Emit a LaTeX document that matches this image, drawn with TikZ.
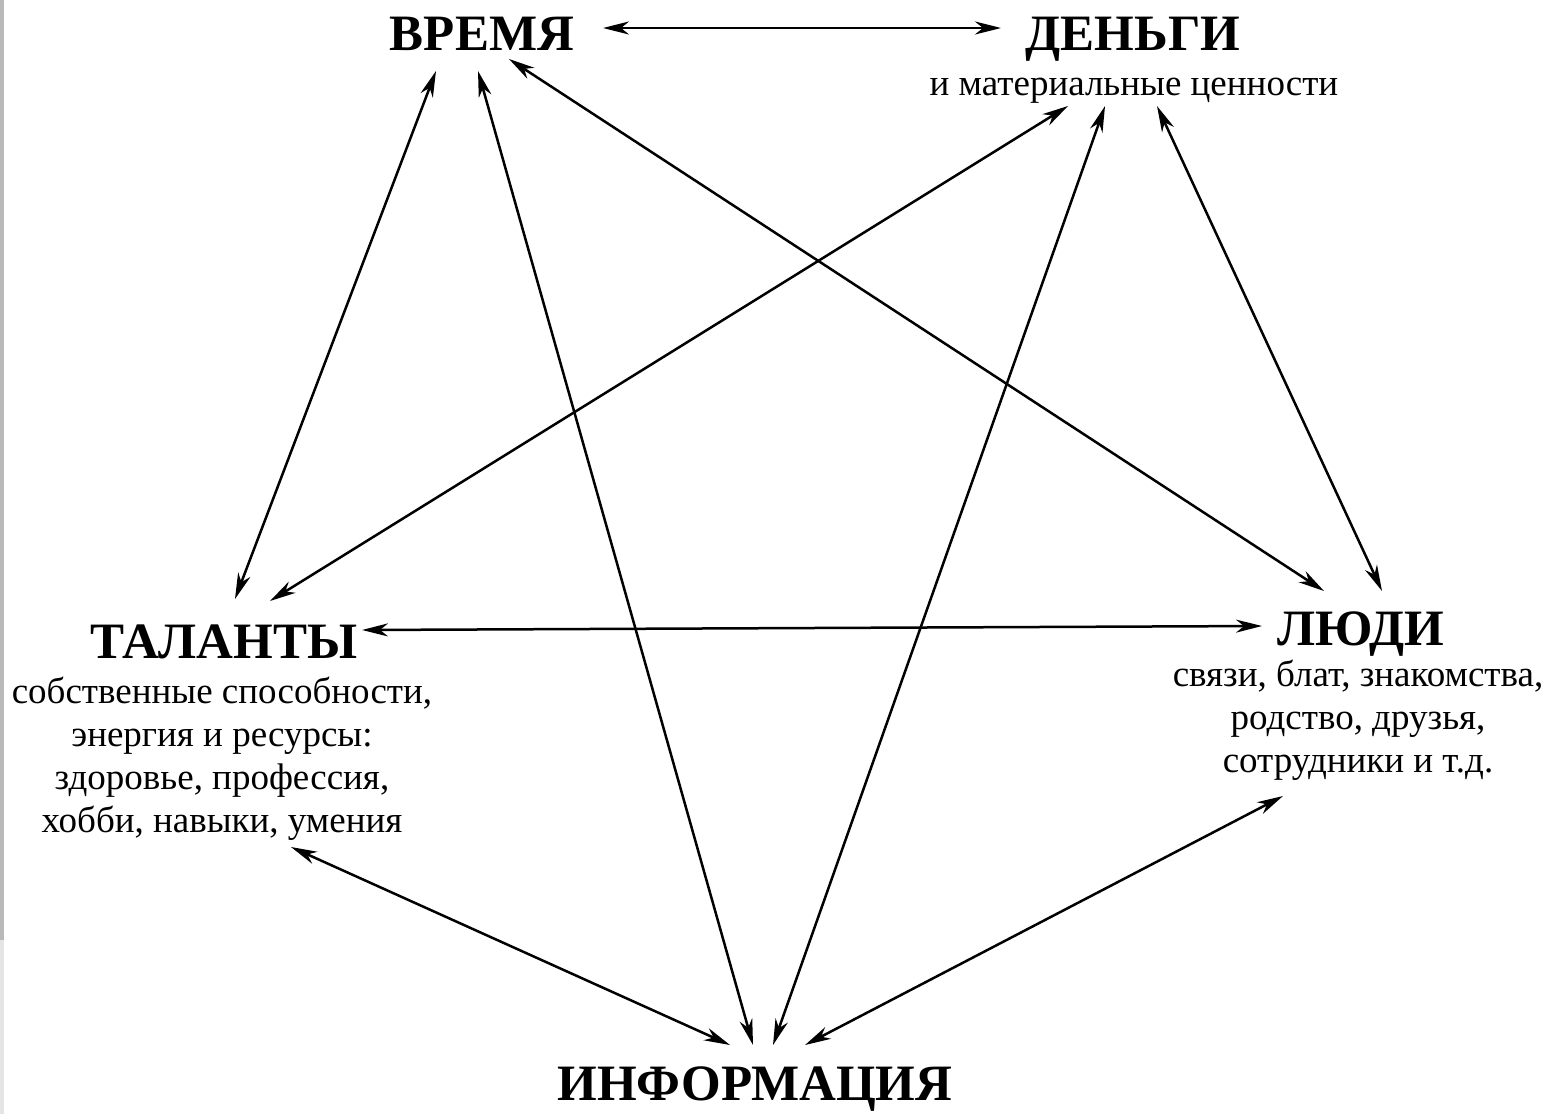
\documentclass[tikz,border=0pt]{standalone}
\usepackage{fontspec}
\setmainfont{Liberation Serif}
\usetikzlibrary{arrows.meta,positioning}

\begin{document}
\begin{tikzpicture}[
  x=1pt,y=-1pt,
  headline/.style={font=\fontsize{51}{60}\selectfont\bfseries,inner sep=0pt,anchor=base},
  subtext/.style={font=\fontsize{37}{43}\selectfont,align=center,inner sep=0pt,anchor=north,execute at begin node=\strut},
  link/.style={<->,line width=2.5pt},
  >={Stealth[length=26pt,width=13pt,inset=8pt]}
]
\useasboundingbox (0,0) rectangle (1549,1114);
\fill[gray!55] (0,0) rectangle (4,940);
\fill[gray!20] (0,940) rectangle (4,1114);

\node[headline] (vremya) at (482,50) {ВРЕМЯ};
\node[headline] (dengi) at (1133,50) {ДЕНЬГИ};
\node[subtext] (dengitxt) at (1134,65) {и материальные ценности};
\node[headline] (talanty) at (224,658) {ТАЛАНТЫ};
\node[subtext] (talantytxt) at (222,677) {собственные способности,\\энергия и ресурсы:\\здоровье, профессия,\\хобби, навыки, умения};
\node[headline] (ljudi) at (1361,645) {ЛЮДИ};
\node[subtext] (ljuditxt) at (1358,660) {связи, блат, знакомства,\\родство, друзья,\\сотрудники и т.д.};
\node[headline] (info) at (755,1100) {ИНФОРМАЦИЯ};

% from the top
\draw[link] ([shift={(121,-22)}]vremya.base) -- ([shift={(-132,-22)}]dengi.base);
\draw[link] ([shift={(-46,21)}]vremya.base) -- ([shift={(11,-59)}]talanty.base);
\draw[link] ([shift={(-4,21)}]vremya.base) -- ([shift={(-2,-55)}]info.base);
\draw[link] ([shift={(27,9)}]vremya.base) -- ([shift={(-37,-54)}]ljudi.base);
\draw[link] ([shift={(-65,56)}]dengi.base) -- ([shift={(46,-57)}]talanty.base);
\draw[link] ([shift={(-28,56)}]dengi.base) -- ([shift={(18,-55)}]info.base);
\draw[link] ([shift={(24,56)}]dengi.base) -- ([shift={(21,-54)}]ljudi.base);

% middle and bottom
\draw[link] ([shift={(138,-28)}]talanty.base) -- ([shift={(-99,-19)}]ljudi.base);
\draw[link] ([shift={(67,189)}]talanty.base) -- ([shift={(-25,-55)}]info.base);
\draw[link] ([shift={(-78,151)}]ljudi.base) -- ([shift={(50,-55)}]info.base);
\end{tikzpicture}
\end{document}
